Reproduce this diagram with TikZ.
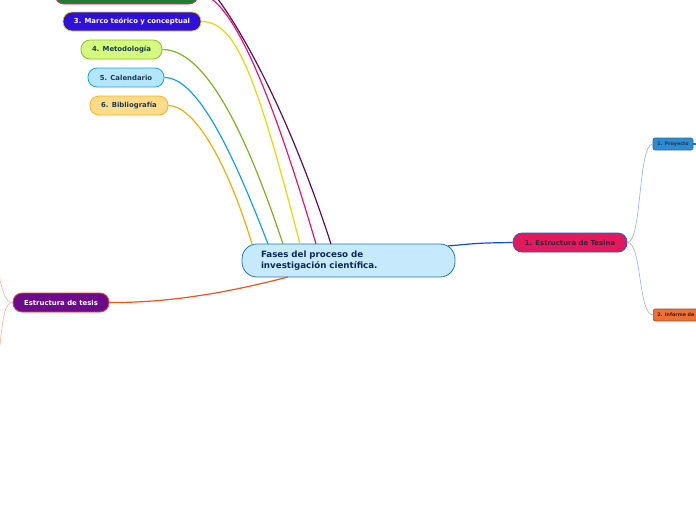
\documentclass[tikz,border=0pt]{standalone}
\usepackage{fontspec}
\setmainfont{DejaVu Sans}
\definecolor{txtdark}{HTML}{1D3B4E}
\definecolor{navy}{HTML}{102A55}
\definecolor{gfill}{HTML}{1E7D32}
\definecolor{gdraw}{HTML}{FF1A70}
\definecolor{mfill}{HTML}{2E0FDB}
\definecolor{mdraw}{HTML}{E5D11A}
\definecolor{mefill}{HTML}{D4F97F}
\definecolor{medraw}{HTML}{8FBF21}
\definecolor{cfill}{HTML}{B4E5FA}
\definecolor{cdraw}{HTML}{17A4E8}
\definecolor{bfill}{HTML}{FFDB8C}
\definecolor{bdraw}{HTML}{FFB21A}
\definecolor{cenfill}{HTML}{C6E9FB}
\definecolor{cendraw}{HTML}{1F77C0}
\definecolor{tfill}{HTML}{E01A5C}
\definecolor{tdraw}{HTML}{1C5FD5}
\definecolor{ttext}{HTML}{3A2035}
\definecolor{pfill}{HTML}{2B8BD3}
\definecolor{pdraw}{HTML}{3A6A8A}
\definecolor{ifill}{HTML}{EE7035}
\definecolor{idraw}{HTML}{8A5030}
\definecolor{itext}{HTML}{3A2010}
\definecolor{esfill}{HTML}{6B0A8B}
\definecolor{esdraw}{HTML}{F04A1A}
\definecolor{lnorange}{HTML}{FFAA00}
\definecolor{lnblue}{HTML}{12A2EA}
\definecolor{lngreen}{HTML}{7DB51A}
\definecolor{lnyellow}{HTML}{EED600}
\definecolor{lnpink}{HTML}{F0136E}
\definecolor{lnpurple}{HTML}{5A0E6A}
\definecolor{lnred}{HTML}{F2531C}
\definecolor{lnnavy}{HTML}{0D52C8}
\definecolor{lnlight}{HTML}{8FB4EE}
\definecolor{lnproy}{HTML}{1A6FD0}
\definecolor{lnsalmon}{HTML}{FFB098}
\begin{document}
\begin{tikzpicture}[x=1pt,y=-1pt,
  pill/.style={rounded corners=9pt, draw, line width=0.8pt, minimum height=19pt, inner sep=0pt,
    font=\bfseries\fontsize{6.9}{8}\selectfont},
  small/.style={rounded corners=2pt, draw, line width=0.6pt, minimum height=12pt, inner sep=2pt,
    font=\bfseries\fontsize{4.8}{6}\selectfont},
  conn/.style={line width=1.2pt},
  thin/.style={line width=0.6pt}]
\useasboundingbox (0,0) rectangle (696,520);
\clip (0,0) rectangle (696,520);
\fill[white] (0,0) rectangle (696,520);

% nodes
\node[pill, fill=gfill, draw=gdraw, minimum width=143pt, minimum height=20pt] (fase2) at (126.5,-6) {};
\coordinate (topp) at (195,-25);
\node[pill, fill=mfill, draw=mdraw, text=white, minimum width=138pt] (marco) at (132,21.5) {3. Marco teórico y conceptual};
\node[pill, fill=mefill, draw=medraw, text=txtdark, minimum width=81pt] (meto) at (121.5,49.5) {4. Metodología};
\node[pill, fill=cfill, draw=cdraw, text=txtdark, minimum width=76pt] (cal) at (126,77.5) {5. Calendario};
\node[pill, fill=bfill, draw=bdraw, text=txtdark, minimum width=78pt] (bib) at (129,105.5) {6. Bibliografía};
\node[rounded corners=15pt, draw=cendraw, fill=cenfill, line width=0.8pt, minimum width=213pt, minimum height=33pt,
  text width=175pt, inner xsep=19pt, inner ysep=0pt, align=left, text=navy,
  font=\bfseries\fontsize{8.7}{11}\selectfont] (central) at (348.5,260.5) {Fases del proceso de\\investigación científica.};
\node[pill, fill=tfill, draw=tdraw, text=ttext, minimum width=114pt] (tesina) at (570,242.5) {1. Estructura de Tesina};
\node[small, fill=pfill, draw=pdraw, text=txtdark, minimum width=40pt] (proy) at (673,144) {1. Proyecto};
\node[small, fill=ifill, draw=idraw, text=itext, minimum width=70pt, anchor=west, text width=62pt, align=left] (inf) at (653,315) {2. Informe de};
\node[pill, fill=esfill, draw=esdraw, text=white, minimum width=96pt] (tesis) at (61,302.5) {Estructura de tesis};

\coordinate (c1) at (252,244);
\coordinate (c2) at (268,244);
\coordinate (c3) at (283,244);
\coordinate (c4) at (300,244);
\coordinate (c5) at (316,244);
\coordinate (c6) at (331,244);
\coordinate (c7) at (288,277);
\coordinate (c8) at (448,246);
\coordinate (pout) at (700,144);
\coordinate (l1) at (-2,272);
\coordinate (l2) at (0,345);

% connectors
\draw[conn, draw=lnorange] (bib.east) .. controls (193,105.5) and (226,158) .. (c1);
\draw[conn, draw=lnblue] (cal.east) .. controls (195,77.5) and (228,140) .. (c2);
\draw[conn, draw=lngreen] (meto.east) .. controls (205,49.5) and (245,130) .. (c3);
\draw[conn, draw=lnyellow] (marco.east) .. controls (235,21.5) and (255,70) .. (c4);
\draw[conn, draw=lnpink] (fase2.east) .. controls (225,-6) and (262,60) .. (c5);
\draw[conn, draw=lnpurple] (topp) .. controls (215,-15) and (278,80) .. (c6);
\draw[conn, draw=lnred] (c7) .. controls (230,292) and (170,303) .. (tesis.east);
\draw[conn, draw=lnnavy] (c8) .. controls (480,243) .. (tesina.west);
\draw[thin, draw=lnlight] (tesina.east) .. controls (642,242.5) and (638,144) .. (proy.west);
\draw[thin, draw=lnlight] (tesina.east) .. controls (642,242.5) and (638,315) .. (inf.west);
\draw[conn, draw=lnproy] (proy.east) -- (pout);
\draw[thin, draw=lnsalmon] (tesis.west) .. controls (5,302.5) and (3,292) .. (l1);
\draw[thin, draw=lnsalmon] (tesis.west) .. controls (5,302.5) and (3,316) .. (l2);
\end{tikzpicture}
\end{document}
